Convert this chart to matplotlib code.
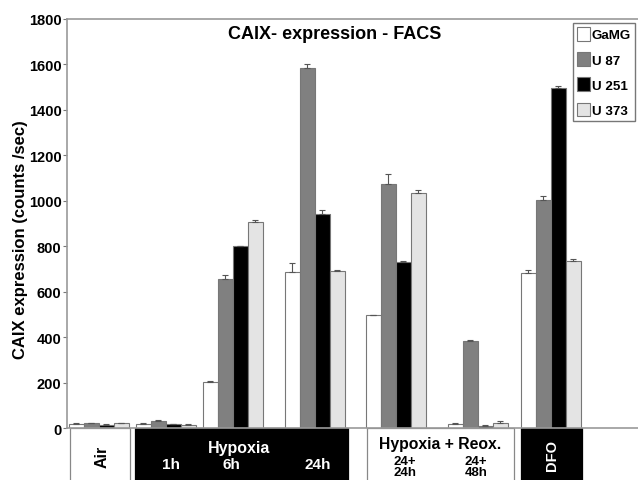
import numpy as np
import matplotlib
matplotlib.use('Agg')
import matplotlib.pyplot as plt
from matplotlib.patches import Rectangle
import matplotlib.transforms as mtransforms

plt.rcParams['font.family'] = 'Liberation Sans'
plt.rcParams['font.weight'] = 'bold'

# data
series = ['GaMG', 'U 87', 'U 251', 'U 373']
conditions = ['Air', 'Hyp 1h', 'Hyp 6h', 'Hyp 24h', 'Reox 24+24h', 'Reox 24+48h', 'DFO']
gamg = [18, 18, 203, 686, 497, 20, 681]
u87 = [22, 32, 656, 1584, 1073, 385, 1004]
u251 = [15, 18, 800, 942, 732, 10, 1498]
u373 = [22, 15, 906, 693, 1033, 25, 737]
gamg_err = [4, 4, 4, 40, 3, 3, 15]
u87_err = [3, 6, 19, 17, 47, 3, 18]
u251_err = [2, 2, 3, 18, 3, 3, 6]
u373_err = [3, 2, 11, 4, 16, 5, 5]
yticks = [0, 200, 400, 600, 800, 1000, 1200, 1400, 1600, 1800]

# layout
group_x = [99, 166, 233, 315, 396, 478, 551]
bar_w = 15
colors = ['white', '#808080', 'black', '#e4e4e4']

fig = plt.figure(figsize=(6.38, 4.81), dpi=100)
ax = fig.add_axes([0.105, 0.1075, 0.895, 0.8513])

vals = [gamg, u87, u251, u373]
errs = [gamg_err, u87_err, u251_err, u373_err]
for k in range(4):
    xs = np.array(group_x) + (k - 1.5) * bar_w
    ax.bar(xs, vals[k], width=bar_w, color=colors[k], edgecolor='#777777',
           linewidth=0.8, label=series[k], zorder=2)
    ax.errorbar(xs, vals[k], yerr=[np.zeros(len(errs[k])), errs[k]], fmt='none',
                ecolor='#555555', elinewidth=0.8, capsize=2.5, capthick=0.8, zorder=3)

ax.set_xlim(67, 638)
ax.set_ylim(0, 1800)
ax.set_yticks(yticks)
ax.set_xticks([])
ax.tick_params(axis='y', labelsize=10.5, length=3, color='#777777', pad=1)
for lab in ax.get_yticklabels():
    lab.set_fontweight('bold')
for s in ['left', 'top', 'bottom']:
    ax.spines[s].set_color('#999999')
    ax.spines[s].set_linewidth(1.2)
ax.spines['right'].set_visible(False)

ax.set_ylabel('CAIX expression (counts /sec)', fontsize=12, fontweight='bold')
ax.yaxis.set_label_coords(-0.068, 0.462)
ax.text(335, 1775, 'CAIX- expression - FACS', fontsize=13, fontweight='bold',
        ha='center', va='top')

leg = ax.legend(loc='upper right', bbox_to_anchor=(0.995, 0.99), fontsize=9.6,
                handlelength=1.0, handleheight=1.2, handletextpad=0.15,
                labelspacing=0.82, borderpad=0.3, borderaxespad=0.0,
                fancybox=False, edgecolor='#777777', framealpha=1)
leg.get_frame().set_linewidth(1.0)

# condition boxes under the axis
trans = mtransforms.blended_transform_factory(ax.transData, ax.transAxes)
boxes = [(70, 130, 'white'), (135, 348, 'black'), (367, 514, 'white'), (521, 582, 'black')]
for x0, x1, c in boxes:
    r = Rectangle((x0, -0.14), x1 - x0, 0.14, transform=trans, facecolor=c,
                  edgecolor='#888888' if c == 'white' else 'black', linewidth=0.9,
                  clip_on=False, zorder=1)
    ax.add_patch(r)

ax.text(102, -0.068, 'Air', transform=trans, rotation=90, ha='center', va='center',
        fontsize=11.5, fontweight='bold')
ax.text(239, -0.046, 'Hypoxia', transform=trans, ha='center', va='center',
        fontsize=11.5, fontweight='bold', color='white')
for x, t in zip([171, 231, 318], ['1h', '6h', '24h']):
    ax.text(x, -0.087, t, transform=trans, ha='center', va='center',
            fontsize=11, fontweight='bold', color='white')
ax.text(440, -0.038, 'Hypoxia + Reox.', transform=trans, ha='center', va='center',
        fontsize=11.3, fontweight='bold')
for x, t in zip([405, 476], ['24+\n24h', '24+\n48h']):
    ax.text(x, -0.093, t, transform=trans, ha='center', va='center',
            fontsize=9.5, fontweight='bold', linespacing=0.95)
ax.text(552, -0.064, 'DFO', transform=trans, rotation=90, ha='center', va='center',
        fontsize=10.5, fontweight='bold', color='white')

fig.savefig('out.png', dpi=100)
